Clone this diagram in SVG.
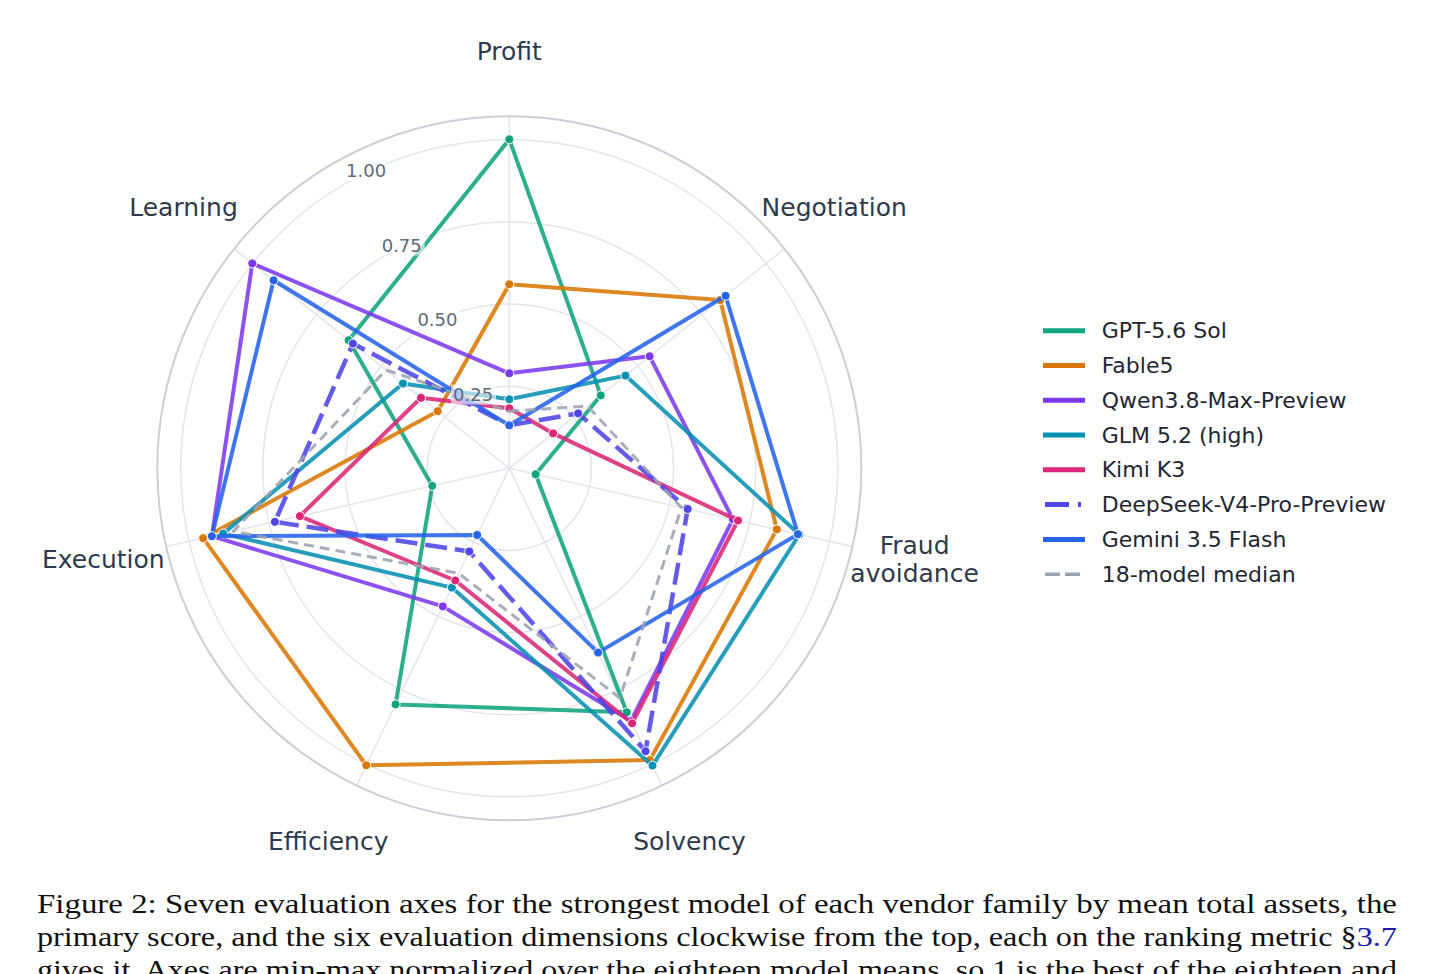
<svg xmlns="http://www.w3.org/2000/svg" width="1434" height="974" viewBox="0 0 1434 974">
<style>
.grid{fill:none;stroke:#e3e5eb;stroke-width:1.5}
.outer{fill:none;stroke:#cbced7;stroke-width:2}
.axlbl{font-family:"DejaVu Sans",sans-serif;font-size:25px;fill:#2f3a4b;text-anchor:middle}
.tick{font-family:"DejaVu Sans",sans-serif;font-size:18px;fill:#5f6978}
.tickbg{fill:#ffffff;opacity:0.6}
.leg{font-family:"DejaVu Sans",sans-serif;font-size:22px;fill:#1f2631}
.cap{font-family:"Liberation Serif",serif;font-size:27px;fill:#111111}
.s{fill:none;stroke-width:4;stroke-linejoin:round;opacity:0.88}
.ls{stroke-width:5;fill:none}
.mk{stroke:#ffffff;stroke-width:1}
.gpt{stroke:#10a37f}.gptf{fill:#10a37f}
.fab{stroke:#d97706}.fabf{fill:#d97706}
.qwn{stroke:#7c3aed}.qwnf{fill:#7c3aed}
.glm{stroke:#0891b2}.glmf{fill:#0891b2}
.kim{stroke:#db2777}.kimf{fill:#db2777}
.dsk{stroke:#4f46e5;stroke-width:4.5;stroke-dasharray:22,8}.dskf{fill:#4f46e5}
.gem{stroke:#2563eb}.gemf{fill:#2563eb}
.med{stroke:#9ca3af;stroke-width:3;stroke-dasharray:10,6}
.medl{stroke:#9ca3af;stroke-width:3.5;stroke-dasharray:15,5}
</style>
<rect x="0" y="0" width="1434" height="974" fill="#ffffff"/>
<g id="grid">
<circle class="grid" cx="509.3" cy="468.3" r="82.1"/>
<circle class="grid" cx="509.3" cy="468.3" r="164.25"/>
<circle class="grid" cx="509.3" cy="468.3" r="246.4"/>
<circle class="grid" cx="509.3" cy="468.3" r="328.5"/>
<line class="grid" x1="509.3" y1="468.3" x2="509.3" y2="116.3"/>
<line class="grid" x1="509.3" y1="468.3" x2="784.5" y2="248.8"/>
<line class="grid" x1="509.3" y1="468.3" x2="852.5" y2="546.6"/>
<line class="grid" x1="509.3" y1="468.3" x2="662.0" y2="785.4"/>
<line class="grid" x1="509.3" y1="468.3" x2="356.6" y2="785.4"/>
<line class="grid" x1="509.3" y1="468.3" x2="166.1" y2="546.6"/>
<line class="grid" x1="509.3" y1="468.3" x2="234.1" y2="248.8"/>
<circle class="outer" cx="509.3" cy="468.3" r="352"/>
</g>
<g id="axis-labels">
<text class="axlbl" x="509.3" y="60">Profit</text>
<text class="axlbl" x="834.2" y="216">Negotiation</text>
<text class="axlbl" x="914.6" y="554">Fraud</text>
<text class="axlbl" x="914.6" y="581.7">avoidance</text>
<text class="axlbl" x="689.5" y="850">Solvency</text>
<text class="axlbl" x="328.3" y="850">Efficiency</text>
<text class="axlbl" x="103.3" y="568">Execution</text>
<text class="axlbl" x="183.5" y="216">Learning</text>
</g>
<g id="connectors">
<g id="s-gpt">
<polygon class="s gpt" points="509.3,139.3 600.8,395.4 535.6,474.3 626.8,712.3 395.6,704.4 432.3,485.9 348.7,340.2"/>
<g class="mk gptf"><circle cx="509.3" cy="139.3" r="4.5"/><circle cx="600.8" cy="395.4" r="4.5"/><circle cx="535.6" cy="474.3" r="4.5"/><circle cx="626.8" cy="712.3" r="4.5"/><circle cx="395.6" cy="704.4" r="4.5"/><circle cx="432.3" cy="485.9" r="4.5"/><circle cx="348.7" cy="340.2" r="4.5"/></g>
</g>
<g id="s-fable5">
<polygon class="s fab" points="509.3,284.3 720.2,300.1 776.8,529.4 649.8,760.1 366.3,765.3 203.2,538.2 437.7,411.2"/>
<g class="mk fabf"><circle cx="509.3" cy="284.3" r="4.5"/><circle cx="720.2" cy="300.1" r="4.5"/><circle cx="776.8" cy="529.4" r="4.5"/><circle cx="649.8" cy="760.1" r="4.5"/><circle cx="366.3" cy="765.3" r="4.5"/><circle cx="203.2" cy="538.2" r="4.5"/><circle cx="437.7" cy="411.2" r="4.5"/></g>
</g>
<g id="s-qwen">
<polygon class="s qwn" points="509.3,373.3 649.7,356.3 732.9,519.3 631.0,721.0 442.8,606.4 211.9,536.2 252.3,263.4"/>
<g class="mk qwnf"><circle cx="509.3" cy="373.3" r="4.5"/><circle cx="649.7" cy="356.3" r="4.5"/><circle cx="732.9" cy="519.3" r="4.5"/><circle cx="631.0" cy="721.0" r="4.5"/><circle cx="442.8" cy="606.4" r="4.5"/><circle cx="211.9" cy="536.2" r="4.5"/><circle cx="252.3" cy="263.4" r="4.5"/></g>
</g>
<g id="s-glm">
<polygon class="s glm" points="509.3,399.3 625.5,375.6 799.4,534.5 652.5,765.6 451.9,587.6 223.2,533.6 403.0,383.5"/>
<g class="mk glmf"><circle cx="509.3" cy="399.3" r="4.5"/><circle cx="625.5" cy="375.6" r="4.5"/><circle cx="799.4" cy="534.5" r="4.5"/><circle cx="652.5" cy="765.6" r="4.5"/><circle cx="451.9" cy="587.6" r="4.5"/><circle cx="223.2" cy="533.6" r="4.5"/><circle cx="403.0" cy="383.5" r="4.5"/></g>
</g>
<g id="s-kimi">
<polygon class="s kim" points="509.3,408.3 553.1,433.4 738.0,520.5 632.1,723.3 455.3,580.5 299.9,516.1 421.0,397.8"/>
<g class="mk kimf"><circle cx="509.3" cy="408.3" r="4.5"/><circle cx="553.1" cy="433.4" r="4.5"/><circle cx="738.0" cy="520.5" r="4.5"/><circle cx="632.1" cy="723.3" r="4.5"/><circle cx="455.3" cy="580.5" r="4.5"/><circle cx="299.9" cy="516.1" r="4.5"/><circle cx="421.0" cy="397.8" r="4.5"/></g>
</g>
<g id="s-deepseek">
<polygon class="s dsk" points="509.3,425.3 578.1,413.4 687.7,509.0 645.5,751.2 469.3,551.5 274.9,521.8 352.9,343.6"/>
<g class="mk dskf"><circle cx="509.3" cy="425.3" r="4.5"/><circle cx="578.1" cy="413.4" r="4.5"/><circle cx="687.7" cy="509.0" r="4.5"/><circle cx="645.5" cy="751.2" r="4.5"/><circle cx="469.3" cy="551.5" r="4.5"/><circle cx="274.9" cy="521.8" r="4.5"/><circle cx="352.9" cy="343.6" r="4.5"/></g>
</g>
<g id="s-gemini">
<polygon class="s gem" points="509.3,425.3 725.6,295.8 797.9,534.2 598.1,652.6 477.2,535.0 211.9,536.2 273.6,280.3"/>
<g class="mk gemf"><circle cx="509.3" cy="425.3" r="4.5"/><circle cx="725.6" cy="295.8" r="4.5"/><circle cx="797.9" cy="534.2" r="4.5"/><circle cx="598.1" cy="652.6" r="4.5"/><circle cx="477.2" cy="535.0" r="4.5"/><circle cx="211.9" cy="536.2" r="4.5"/><circle cx="273.6" cy="280.3" r="4.5"/></g>
</g>
<g id="s-median">
<polygon class="s med" points="509.3,411.3 587.5,406.0 681.5,507.6 619.9,698.0 458.7,573.4 233.4,531.3 386.0,370.0"/>
</g>
</g>
<g id="ticks">
<rect class="tickbg" x="344" y="161" width="45" height="20"/>
<rect class="tickbg" x="379.7" y="235.5" width="45" height="20"/>
<rect class="tickbg" x="415.4" y="310" width="45" height="20"/>
<rect class="tickbg" x="451.1" y="384.5" width="45" height="20"/>
<text class="tick" x="346" y="177.3">1.00</text>
<text class="tick" x="381.7" y="251.7">0.75</text>
<text class="tick" x="417.4" y="326.1">0.50</text>
<text class="tick" x="453.1" y="400.5">0.25</text>
</g>
<g id="legend">
<line class="ls gpt" x1="1043" y1="330.7" x2="1085" y2="330.7"/>
<text class="leg" x="1101.7" y="338.3">GPT-5.6 Sol</text>
<line class="ls fab" x1="1043" y1="365.5" x2="1085" y2="365.5"/>
<text class="leg" x="1101.7" y="373.1">Fable5</text>
<line class="ls qwn" x1="1043" y1="400.3" x2="1085" y2="400.3"/>
<text class="leg" x="1101.7" y="407.9">Qwen3.8-Max-Preview</text>
<line class="ls glm" x1="1043" y1="435" x2="1085" y2="435"/>
<text class="leg" x="1101.7" y="442.6">GLM 5.2 (high)</text>
<line class="ls kim" x1="1043" y1="469.8" x2="1085" y2="469.8"/>
<text class="leg" x="1101.7" y="477.4">Kimi K3</text>
<line class="ls dsk" x1="1045" y1="504.6" x2="1081" y2="504.6" style="stroke-width:5;stroke-dasharray:24,9"/>
<text class="leg" x="1101.7" y="512.2">DeepSeek-V4-Pro-Preview</text>
<line class="ls gem" x1="1043" y1="539.4" x2="1085" y2="539.4"/>
<text class="leg" x="1101.7" y="547">Gemini 3.5 Flash</text>
<line class="medl" x1="1045" y1="574.2" x2="1084" y2="574.2"/>
<text class="leg" x="1101.7" y="581.8">18-model median</text>
</g>
<g id="caption">
<text class="cap" x="37" y="913" textLength="1360" lengthAdjust="spacingAndGlyphs">Figure 2: Seven evaluation axes for the strongest model of each vendor family by mean total assets, the</text>
<text class="cap" x="37" y="946" textLength="1360" lengthAdjust="spacingAndGlyphs">primary score, and the six evaluation dimensions clockwise from the top, each on the ranking metric §<tspan fill="#1c1ca8">3.7</tspan></text>
<text class="cap" x="37" y="979" textLength="1360" lengthAdjust="spacingAndGlyphs">gives it. Axes are min-max normalized over the eighteen model means, so 1 is the best of the eighteen and</text>
</g>
</svg>
